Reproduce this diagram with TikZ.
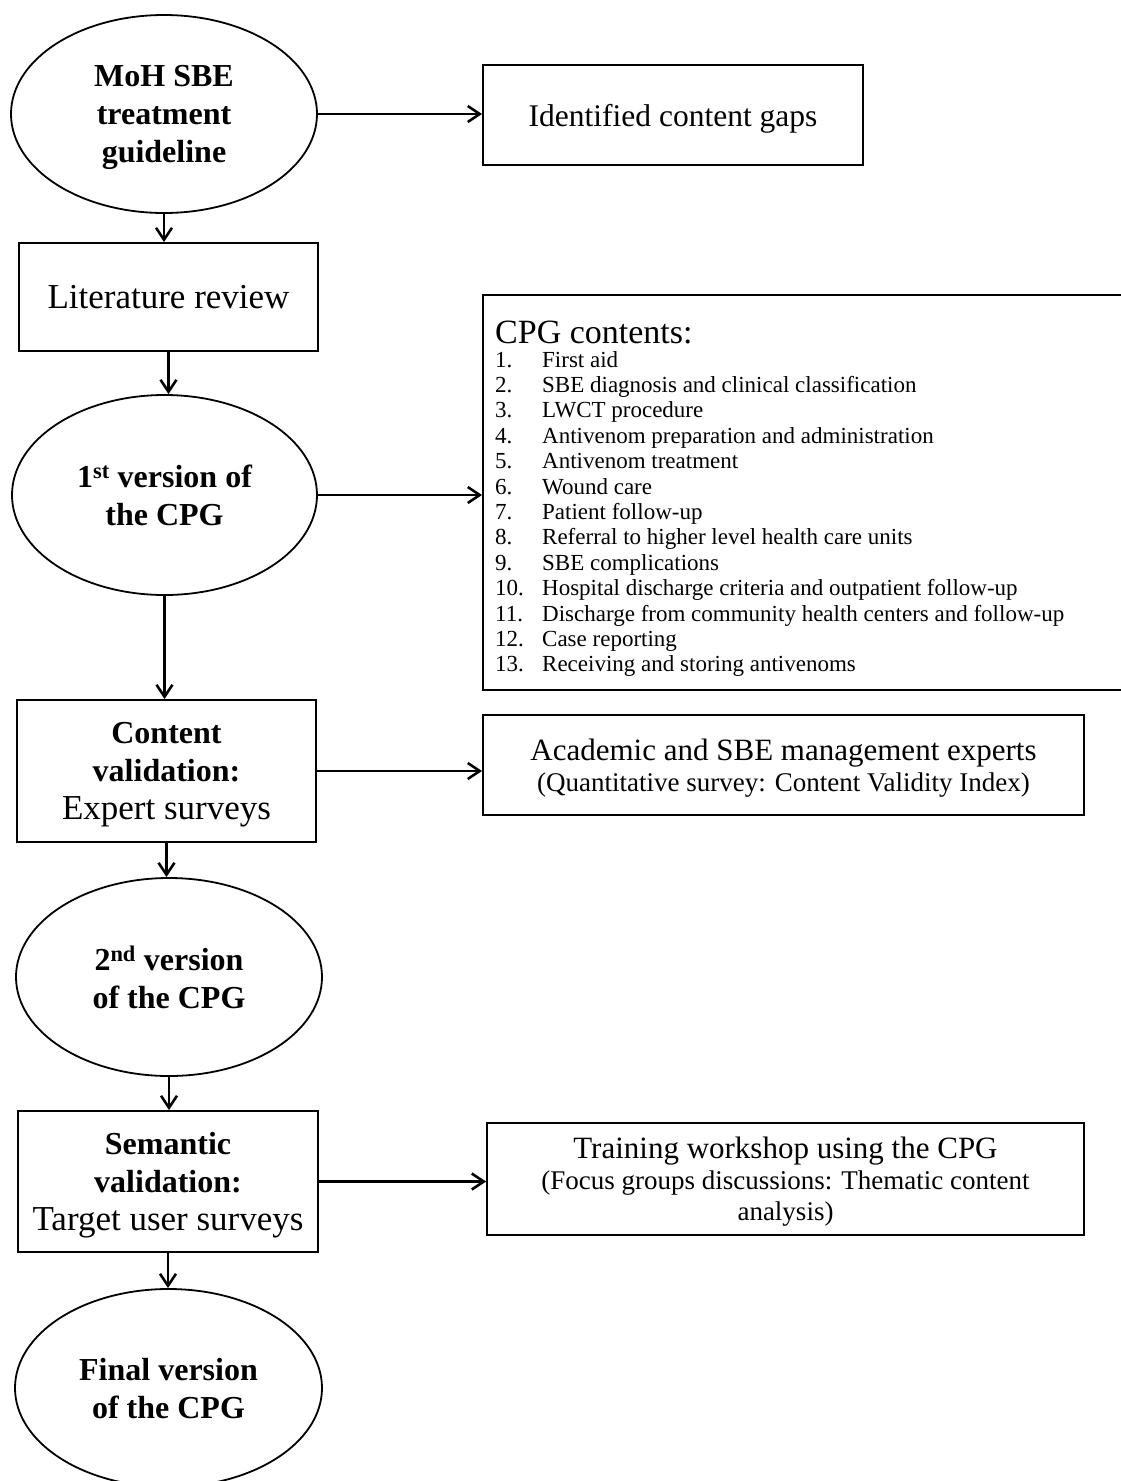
\documentclass[tikz,border=0pt]{standalone}
\usepackage{fontspec}
\setmainfont{Liberation Serif}
\usetikzlibrary{shapes.geometric, arrows.meta, positioning}

\tikzset{
  oval/.style={draw, ellipse, line width=1.8pt, inner sep=0pt, align=center, text depth=0pt,
    font=\bfseries\fontsize{32}{38}\selectfont},
  stepbox/.style={draw, rectangle, line width=1.8pt, inner sep=0pt, align=center, text depth=0pt,
    font=\fontsize{35}{38}\selectfont},
  notebox/.style={draw, rectangle, line width=1.8pt, inner sep=0pt, align=center, text depth=0pt,
    font=\fontsize{27}{31}\selectfont},
  link/.style={-{Straight Barb[length=12pt,width=16pt]}, line width=2.6pt},
}
\newcommand{\bigline}[1]{{\fontsize{31}{31}\selectfont #1}}
\newcommand{\boldline}[1]{{\bfseries\fontsize{32}{38}\selectfont #1}}
\newcommand{\cpgitem}[2]{\makebox[47pt][l]{#1}#2}

\begin{document}
\begin{tikzpicture}[x=1pt, y=-1pt]
  \useasboundingbox (0,0) rectangle (1121,1481);

  % main column
  \node[oval, minimum width=306pt, minimum height=198pt] (moh) at (164,114) {MoH SBE\\treatment\\guideline};
  \node[stepbox, minimum width=299pt, minimum height=108pt] (litrev) at (168.5,297) {Literature review};
  \node[oval, minimum width=305pt, minimum height=200pt] (v1) at (164.5,495) {1\textsuperscript{st} version of\\the CPG};
  \node[stepbox, minimum width=299pt, minimum height=142pt] (contval) at (166.5,771)
    {\boldline{Content}\\\boldline{validation:}\\Expert surveys};
  \node[oval, minimum width=306pt, minimum height=198pt] (v2) at (169,977) {2\textsuperscript{nd} version\\of the CPG};
  \node[stepbox, minimum width=300pt, minimum height=141pt] (semval) at (168,1181.5)
    {\boldline{Semantic}\\\boldline{validation:}\\Target user surveys};
  \node[oval, minimum width=307pt, minimum height=198pt] (final) at (168.5,1388) {Final version\\of the CPG};

  % side boxes
  \node[stepbox, font=\fontsize{31.5}{38}\selectfont, minimum width=380pt, minimum height=100pt] (gaps) at (673,115) {Identified content gaps};
  \node[draw, rectangle, line width=1.8pt, minimum width=657pt, minimum height=395pt] (cpgbox) at (811.5,492.5) {};
  \node[anchor=west, inner sep=0pt, font=\fontsize{34}{36}\selectfont] (cpgtitle) at (495,332) {CPG contents:};
  \node[anchor=north west, inner sep=0pt, align=left, font=\fontsize{23}{25.4}\selectfont] (cpglist) at (495,351) {%
    \cpgitem{1.}{First aid}\\
    \cpgitem{2.}{SBE diagnosis and clinical classification}\\
    \cpgitem{3.}{LWCT procedure}\\
    \cpgitem{4.}{Antivenom preparation and administration}\\
    \cpgitem{5.}{Antivenom treatment}\\
    \cpgitem{6.}{Wound care}\\
    \cpgitem{7.}{Patient follow-up}\\
    \cpgitem{8.}{Referral to higher level health care units}\\
    \cpgitem{9.}{SBE complications}\\
    \cpgitem{10.}{Hospital discharge criteria and outpatient follow-up}\\
    \cpgitem{11.}{Discharge from community health centers and follow-up}\\
    \cpgitem{12.}{Case reporting}\\
    \cpgitem{13.}{Receiving and storing antivenoms}};
  \node[notebox, minimum width=601pt, minimum height=100pt] (experts) at (783.5,765)
    {\bigline{Academic and SBE management experts}\\(Quantitative survey: Content Validity Index)};
  \node[notebox, minimum width=597pt, minimum height=112pt] (workshop) at (785.5,1179)
    {\bigline{Training workshop using the CPG}\\(Focus groups discussions: Thematic content\\analysis)};

  % arrows down the column
  \draw[link] (moh.south) -- (moh.south |- litrev.north);
  \draw[link] (litrev.south) -- (litrev.south |- v1.north);
  \draw[link] (v1.south) -- (v1.south |- contval.north);
  \draw[link] (contval.south) -- (contval.south |- v2.north);
  \draw[link] (v2.south) -- (v2.south |- semval.north);
  \draw[link] (semval.south) -- (semval.south |- final.north);

  % arrows to the side
  \draw[link] (moh.east) -- (moh.east -| gaps.west);
  \draw[link] (v1.east) -- (v1.east -| cpgbox.west);
  \draw[link] (contval.east) -- (contval.east -| experts.west);
  \draw[link] (semval.east) -- (semval.east -| workshop.west);
\end{tikzpicture}
\end{document}
